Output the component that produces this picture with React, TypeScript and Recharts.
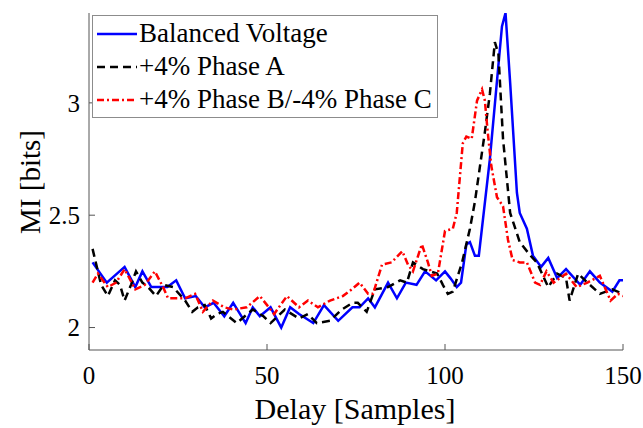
import React from 'react';
import { LineChart, Line, XAxis, YAxis, Legend } from 'recharts';

// values (delay in samples, MI in bits)
const balancedX = [1, 5, 10, 13, 15, 17.5, 22, 24.5, 27, 30, 32.5, 35, 38, 40.5, 44, 46, 48, 51, 54, 56.5, 59, 60, 63, 66, 70, 74, 76, 78.4, 80.3, 84, 86.5, 89, 92, 94.4, 97.5, 100, 101.5, 103.3, 104.5, 106, 107, 108.4, 109.5, 112.6, 116, 117, 118.3, 120.2, 121, 123, 124.7, 127, 129, 131.5, 134, 138, 140.7, 143.5, 147, 149, 150];
const balancedY = [2.29, 2.2, 2.27, 2.18, 2.25, 2.18, 2.18, 2.21, 2.13, 2.14, 2.09, 2.11, 2.05, 2.11, 2.02, 2.09, 2.05, 2.09, 2.0, 2.09, 2.06, 2.05, 2.02, 2.1, 2.03, 2.09, 2.09, 2.13, 2.09, 2.2, 2.13, 2.2, 2.19, 2.25, 2.21, 2.25, 2.22, 2.18, 2.2, 2.37, 2.38, 2.32, 2.32, 2.75, 3.34, 3.4, 3.09, 2.6, 2.51, 2.44, 2.32, 2.27, 2.31, 2.22, 2.26, 2.19, 2.25, 2.2, 2.16, 2.21, 2.21];

const phaseAX = [1, 3.4, 5.3, 7.3, 8.7, 10, 11.8, 13.2, 15, 16.6, 18.8, 21, 23.6, 27, 29, 30.6, 32.5, 34.3, 36, 37.6, 41.5, 43, 46, 49, 51, 55, 59, 61.5, 64, 67.7, 71, 74, 75.5, 78, 80.3, 84, 87.4, 89.3, 91, 93.8, 97.8, 99.4, 100.8, 102.2, 104.8, 107, 108.4, 111.2, 112.6, 114, 115, 116.3, 118.3, 121, 124, 125.8, 129, 131.5, 134, 135, 137.4, 140, 143.5, 147, 150];
const phaseAY = [2.35, 2.19, 2.14, 2.21, 2.19, 2.12, 2.19, 2.25, 2.2, 2.18, 2.14, 2.19, 2.18, 2.12, 2.07, 2.09, 2.1, 2.04, 2.06, 2.07, 2.02, 2.04, 2.08, 2.05, 2.02, 2.08, 2.04, 2.06, 2.02, 2.03, 2.08, 2.11, 2.11, 2.07, 2.17, 2.18, 2.21, 2.2, 2.29, 2.26, 2.24, 2.19, 2.15, 2.16, 2.29, 2.44, 2.56, 2.87, 3.04, 3.27, 3.22, 2.84, 2.51, 2.38, 2.32, 2.29, 2.18, 2.24, 2.22, 2.12, 2.24, 2.2, 2.15, 2.17, 2.15];

const phaseBCX = [1, 2.5, 5.3, 7.6, 10, 13, 15.7, 18.5, 20.8, 22.2, 24.5, 27, 29.8, 32, 34.8, 38, 40.5, 44.3, 48, 52, 55.6, 59, 61.5, 64.3, 67.7, 71.3, 73.8, 76, 78.4, 79.8, 82.3, 85, 88, 89.6, 91, 93.5, 95.2, 96.3, 98, 100, 102.2, 103.3, 105, 106, 107.5, 109, 110.4, 111.2, 112, 113, 114.6, 116.3, 117.7, 119, 121, 123, 125.3, 126.7, 128.5, 130.5, 134, 137, 140, 143.5, 146.5, 148.6, 150];
const phaseBCY = [2.2, 2.24, 2.18, 2.2, 2.26, 2.17, 2.19, 2.25, 2.18, 2.13, 2.13, 2.13, 2.15, 2.07, 2.12, 2.09, 2.08, 2.09, 2.14, 2.06, 2.14, 2.09, 2.12, 2.09, 2.12, 2.14, 2.17, 2.2, 2.15, 2.15, 2.28, 2.29, 2.34, 2.28, 2.25, 2.37, 2.29, 2.23, 2.24, 2.43, 2.44, 2.51, 2.82, 2.85, 2.84, 3.01, 3.06, 3.01, 2.87, 2.72, 2.58, 2.54, 2.39, 2.3, 2.29, 2.29, 2.2, 2.19, 2.25, 2.2, 2.24, 2.18, 2.2, 2.23, 2.12, 2.15, 2.14];

const seriesNames = ['Balanced Voltage', '+4% Phase A', '+4% Phase B/-4% Phase C'];
const xTicks = [0, 50, 100, 150];
const yTicks = [2, 2.5, 3];

const toPoints = (xs: number[], ys: number[]) => xs.map((x, i) => ({ x, y: ys[i] }));

const FONT = 'Liberation Serif';
const AXIS = '#555555';

const renderLegend = (props: any) => {
  const items = [...(props.payload || [])].sort(
    (a: any, b: any) => seriesNames.indexOf(a.value) - seriesNames.indexOf(b.value)
  );
  return (
    <div
      style={{
        border: '1px solid #8c8c8c',
        background: '#fff',
        padding: '1px 5px 1px 3px',
        fontFamily: FONT,
        fontSize: 27,
        lineHeight: '33px',
        color: '#000',
      }}
    >
      {items.map((item: any) => (
        <div key={item.value} style={{ display: 'flex', alignItems: 'center', whiteSpace: 'nowrap' }}>
          <svg width={42} height={10} style={{ marginRight: 1 }}>
            <line
              x1={1}
              y1={5}
              x2={41}
              y2={5}
              stroke={item.color}
              strokeWidth={2.5}
              strokeDasharray={item.payload?.strokeDasharray}
            />
          </svg>
          <span>{item.value}</span>
        </div>
      ))}
    </div>
  );
};

export default function App() {
  return (
    <div style={{ width: 643, height: 428, background: '#fff' }}>
      <style>{'body{margin:0}'}</style>
      <LineChart width={643} height={428} margin={{ top: 13, right: 20, left: 9, bottom: 8 }}>
        <XAxis
          dataKey="x"
          type="number"
          domain={[0, 150]}
          ticks={xTicks}
          allowDataOverflow
          height={70}
          stroke={AXIS}
          tickSize={-6}
          tickMargin={22}
          tick={{ fill: '#000', fontSize: 25, fontFamily: FONT }}
          label={{
            content: () => (
              <text x={355} y={408} textAnchor="middle" dominantBaseline="central" fontSize={30} fontFamily={FONT} fill="#000">
                Delay [Samples]
              </text>
            ),
          }}
        />
        <XAxis
          xAxisId="top"
          orientation="top"
          type="number"
          domain={[0, 150]}
          ticks={xTicks}
          height={0}
          stroke={AXIS}
          tickSize={-6}
          tickFormatter={() => ''}
        />
        <YAxis
          type="number"
          domain={[1.9, 3.4]}
          ticks={yTicks}
          allowDataOverflow
          width={80}
          stroke={AXIS}
          tickSize={-6}
          tickMargin={15}
          tick={{ fill: '#000', fontSize: 25, fontFamily: FONT }}
          label={{
            content: () => (
              <text
                x={30}
                y={182}
                textAnchor="middle"
                dominantBaseline="central"
                fontSize={29}
                fontFamily={FONT}
                fill="#000"
                transform="rotate(-90 30 182)"
              >
                MI [bits]
              </text>
            ),
          }}
        />
        <YAxis
          yAxisId="right"
          orientation="right"
          type="number"
          domain={[1.9, 3.4]}
          ticks={yTicks}
          width={0}
          stroke={AXIS}
          tickSize={-6}
          tickFormatter={() => ''}
        />
        <Legend
          layout="vertical"
          align="center"
          verticalAlign="middle"
          content={renderLegend}
          wrapperStyle={{ left: 92, top: 15, width: 'auto' }}
        />
        <Line
          data={toPoints(balancedX, balancedY)}
          dataKey="y"
          name={seriesNames[0]}
          type="linear"
          stroke="#0000ff"
          strokeWidth={2.5}
          dot={false}
          isAnimationActive={false}
        />
        <Line
          data={toPoints(phaseAX, phaseAY)}
          dataKey="y"
          name={seriesNames[1]}
          type="linear"
          stroke="#000000"
          strokeWidth={2.5}
          strokeDasharray="8 5"
          dot={false}
          isAnimationActive={false}
        />
        <Line
          data={toPoints(phaseBCX, phaseBCY)}
          dataKey="y"
          name={seriesNames[2]}
          type="linear"
          stroke="#ff0000"
          strokeWidth={2.5}
          strokeDasharray="7 3 2 3"
          dot={false}
          isAnimationActive={false}
        />
      </LineChart>
    </div>
  );
}
